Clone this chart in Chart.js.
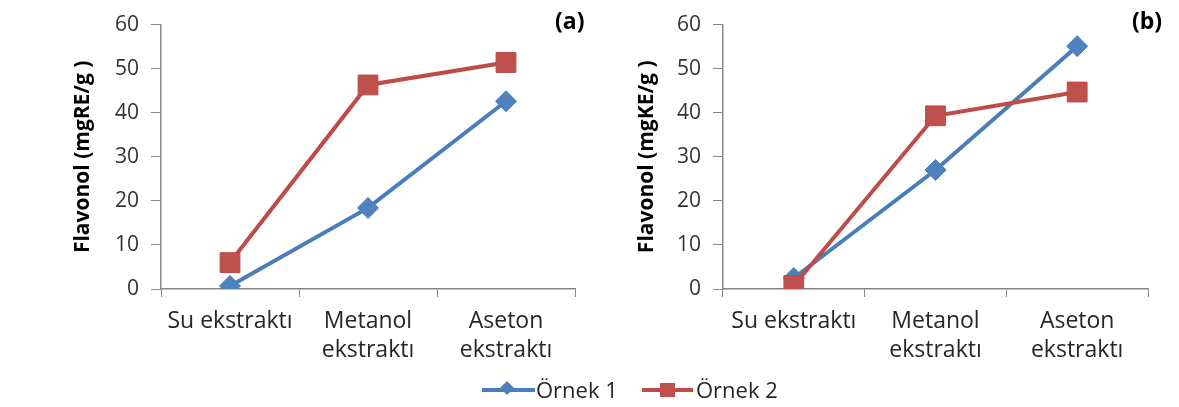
<!DOCTYPE html>
<html>
<head>
<meta charset="utf-8">
<script src="https://cdn.jsdelivr.net/npm/chart.js@4/dist/chart.umd.min.js"></script>
<style>
  body { margin: 0; background: #fff; width: 1179px; height: 407px; position: relative; overflow: hidden; font-family: 'Open Sans', sans-serif; }
  canvas { position: absolute; top: 0; }
  #chart-a { left: 0; }
  #chart-b { left: 600px; }
  .tag { position: absolute; top: 4px; font-weight: bold; font-size: 23px; color: #000; }
  .legend { position: absolute; top: 375px; font-size: 22px; color: #262626; }
  .item { position: absolute; top: 0; height: 30px; white-space: nowrap; }
  .item .line { position: absolute; top: 13px; height: 4px; width: 53px; }
  .item .mark { position: absolute; }
  .item span { position: absolute; top: -1px; }
</style>
</head>
<body>
<canvas id="chart-a" width="600" height="407"></canvas>
<canvas id="chart-b" width="579" height="407"></canvas>
<div class="tag" style="left:555px">(a)</div>
<div class="tag" style="left:1132px">(b)</div>
<div class="legend">
  <div class="item" style="left:482px">
    <div class="line" style="background:#4A7EBB"></div>
    <div class="mark" style="left:20px;top:8px;width:10px;height:10px;background:#4F81BD;transform:rotate(45deg)"></div>
    <span style="left:54px">Örnek 1</span>
  </div>
  <div class="item" style="left:642px">
    <div class="line" style="width:51px;background:#BE4B48"></div>
    <div class="mark" style="left:18px;top:8px;width:15px;height:14px;background:#C0504D"></div>
    <span style="left:54px">Örnek 2</span>
  </div>
</div>
<script>
const categories = ['Su ekstraktı', ['Metanol', 'ekstraktı'], ['Aseton', 'ekstraktı']];
const yTicks = [0, 10, 20, 30, 40, 50, 60];

// (a) Flavonol mgRE/g
const ornek1A = [0.7, 18.4, 42.6];
const ornek2A = [6.0, 46.3, 51.4];
// (b) Flavonol mgKE/g
const ornek1B = [2.5, 27.0, 55.1];
const ornek2B = [0.8, 39.3, 44.7];

const AXIS_COLOR = '#868686';
const TEXT_COLOR = '#262626';
const FONT = "'Open Sans', sans-serif";

function makeDatasets(s1, s2) {
  return [
    {
      label: 'Örnek 1',
      data: s1,
      borderColor: '#4A7EBB',
      backgroundColor: '#4F81BD',
      borderWidth: 4,
      pointStyle: 'rectRot',
      pointRadius: 10.5,
      pointBorderWidth: 1,
      pointBorderColor: '#4A7EBB',
      order: 2
    },
    {
      label: 'Örnek 2',
      data: s2,
      borderColor: '#BE4B48',
      backgroundColor: '#C0504D',
      borderWidth: 4,
      pointStyle: 'rect',
      pointRadius: 14,
      pointBorderWidth: 1,
      pointBorderColor: '#BE4B48',
      order: 1
    }
  ];
}

function makeConfig(s1, s2, yTitle, pad, yWidth) {
  return {
    type: 'line',
    data: { labels: categories, datasets: makeDatasets(s1, s2) },
    options: {
      responsive: false,
      animation: false,
      devicePixelRatio: 1,
      layout: { padding: pad },
      plugins: { legend: { display: false }, tooltip: { enabled: false } },
      scales: {
        x: {
          offset: true,
          grid: { offset: true, drawOnChartArea: false, tickLength: 8, color: AXIS_COLOR },
          border: { color: AXIS_COLOR, width: 1.5 },
          ticks: { color: TEXT_COLOR, padding: 10, maxRotation: 0, autoSkip: false,
                   font: { family: FONT, size: 23, lineHeight: 1.25 } },
          afterFit: scale => { scale.height = 80; }
        },
        y: {
          min: 0,
          max: 60,
          afterBuildTicks: scale => { scale.ticks = yTicks.map(v => ({ value: v })); },
          grid: { drawOnChartArea: false, tickLength: 10, color: AXIS_COLOR },
          border: { color: AXIS_COLOR, width: 1.5 },
          ticks: { color: '#333', padding: 12, font: { family: FONT, size: 21 } },
          title: { display: true, text: yTitle, color: '#000',
                   font: { family: FONT, size: 21, weight: 'bold', lineHeight: 1.2 } },
          afterFit: scale => { scale.width = yWidth; }
        }
      }
    }
  };
}

new Chart(document.getElementById('chart-a'),
  makeConfig(ornek1A, ornek2A, 'Flavonol (mgRE/g )', { left: 66, right: 25, top: 24, bottom: 38 }, 95));
new Chart(document.getElementById('chart-b'),
  makeConfig(ornek1B, ornek2B, 'Flavonol (mgKE/g )', { left: 30, right: 31, top: 24, bottom: 38 }, 93));
</script>
</body>
</html>
